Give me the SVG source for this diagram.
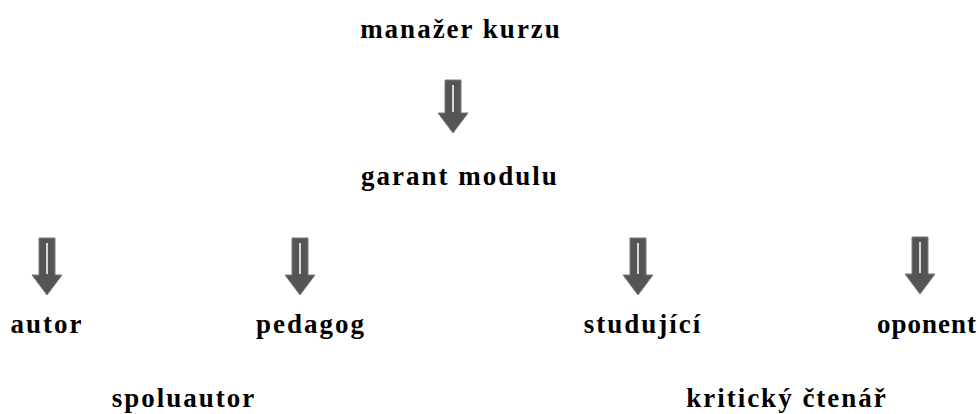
<svg xmlns="http://www.w3.org/2000/svg" width="979" height="414" viewBox="0 0 979 414">
<style>
.t{font-family:"Liberation Serif","Times New Roman",serif;font-weight:bold;font-size:27px;letter-spacing:2px;fill:#000;text-anchor:middle}
.ar{fill:#555;stroke:#7a7a7a;stroke-width:1}
.in{stroke:#d8d8d8;stroke-width:2}
</style>
<defs>
<g id="arrowLong">
<path class="ar" d="M-8,0 H8 V37 H15 L0,57 L-15,37 H-8 Z"/>
<line class="in" x1="0" y1="5" x2="0" y2="36"/>
</g>
<g id="arrowShort">
<path class="ar" d="M-8,0 H8 V33 H15 L0,53 L-15,33 H-8 Z"/>
<line class="in" x1="0" y1="5" x2="0" y2="32"/>
</g>
</defs>
<rect width="979" height="414" fill="#fff"/>
<g id="connectors">
<use href="#arrowShort" x="453" y="80"/>
<use href="#arrowLong" x="47" y="238"/>
<use href="#arrowLong" x="300" y="238"/>
<use href="#arrowLong" x="638" y="238"/>
<use href="#arrowLong" x="920" y="237"/>
</g>
<g id="manazer"><text class="t" x="461" y="38">manažer kurzu</text></g>
<g id="garant"><text class="t" x="460" y="185">garant modulu</text></g>
<g id="autor"><text class="t" x="47" y="333">autor</text></g>
<g id="pedagog"><text class="t" x="311" y="333">pedagog</text></g>
<g id="studujici"><text class="t" x="643" y="333">studující</text></g>
<g id="oponent"><text class="t" x="977" y="333" style="text-anchor:end;letter-spacing:1px">oponent</text></g>
<g id="spoluautor"><text class="t" x="184" y="407">spoluautor</text></g>
<g id="kriticky"><text class="t" x="787" y="407">kritický čtenář</text></g>
</svg>
